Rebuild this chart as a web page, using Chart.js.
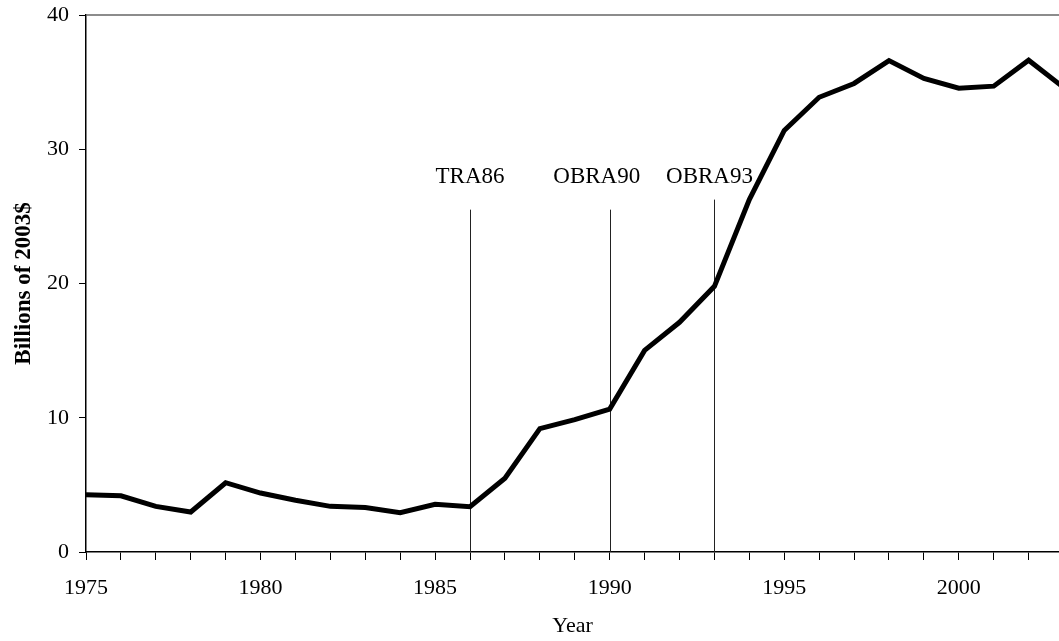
<!DOCTYPE html>
<html>
<head>
<meta charset="utf-8">
<script src="https://cdn.jsdelivr.net/npm/chart.js@4.4.1/dist/chart.umd.min.js"></script>
<style>
  html, body { margin: 0; padding: 0; background: #fff; }
  canvas { display: block; }
</style>
</head>
<body>
<canvas id="chart" width="1059" height="641"></canvas>
<script>
// values
const years = [1975, 1976, 1977, 1978, 1979, 1980, 1981, 1982, 1983, 1984,
               1985, 1986, 1987, 1988, 1989, 1990, 1991, 1992, 1993, 1994,
               1995, 1996, 1997, 1998, 1999, 2000, 2001, 2002, 2003];
const billions = [4.27, 4.19, 3.40, 2.98, 5.16, 4.39, 3.85, 3.40, 3.32, 2.93,
                  3.55, 3.38, 5.49, 9.19, 9.86, 10.65, 15.02, 17.11, 19.79, 26.25,
                  31.4, 33.87, 34.9, 36.6, 35.27, 34.55, 34.7, 36.63, 34.6];
const yTicks = [0, 10, 20, 30, 40];
const xTickLabels = [1975, 1980, 1985, 1990, 1995, 2000];

// law changes marked on the chart
const eventYears = [1986, 1990, 1993];
const eventNames = ['TRA86', 'OBRA90', 'OBRA93'];
const eventLineTops = [25.5, 25.5, 26.25];
const eventLabelYears = [1986, 1989.63, 1992.86];
const eventLabelLevel = 27.95;

const serif = 'Liberation Serif';

// vertical lines + names, top frame line
const eventLines = {
  id: 'eventLines',
  beforeDatasetsDraw(chart) {
    const ctx = chart.ctx;
    const x = chart.scales.x, y = chart.scales.y;
    const area = chart.chartArea;
    ctx.save();
    ctx.strokeStyle = '#666';
    ctx.lineWidth = 1.5;
    ctx.beginPath();
    ctx.moveTo(area.left, area.top);
    ctx.lineTo(area.right, area.top);
    ctx.stroke();

    ctx.strokeStyle = '#222';
    ctx.lineWidth = 1;
    eventYears.forEach((yr, i) => {
      const px = Math.round(x.getPixelForValue(yr)) + 0.5;
      ctx.beginPath();
      ctx.moveTo(px, y.getPixelForValue(eventLineTops[i]));
      ctx.lineTo(px, y.getPixelForValue(0));
      ctx.stroke();
    });
    ctx.fillStyle = '#000';
    ctx.font = '23px "' + serif + '"';
    ctx.textAlign = 'center';
    ctx.textBaseline = 'middle';
    eventNames.forEach((name, i) => {
      ctx.fillText(name, x.getPixelForValue(eventLabelYears[i]), y.getPixelForValue(eventLabelLevel));
    });
    ctx.restore();
  }
};

const ctx = document.getElementById('chart').getContext('2d');
new Chart(ctx, {
  type: 'line',
  data: {
    datasets: [{
      data: years.map((yr, i) => ({ x: yr, y: billions[i] })),
      borderColor: '#000',
      borderWidth: 5,
      borderJoinStyle: 'miter',
      pointRadius: 0,
      tension: 0,
      fill: false
    }]
  },
  options: {
    responsive: false,
    animation: false,
    layout: { padding: { top: 15, right: 0, left: 0, bottom: 0 } },
    plugins: {
      legend: { display: false },
      tooltip: { enabled: false }
    },
    scales: {
      x: {
        type: 'linear',
        min: 1975,
        max: 2002.87,
        afterBuildTicks: scale => {
          scale.ticks = years.filter(v => v <= scale.max).map(v => ({ value: v }));
        },
        afterFit: scale => { scale.height = 89; },
        ticks: {
          autoSkip: false,
          maxRotation: 0,
          padding: 15,
          color: '#000',
          font: { family: serif, size: 22 },
          callback: v => xTickLabels.includes(v) ? String(v) : ''
        },
        grid: { drawOnChartArea: false, drawTicks: true, tickLength: 8, tickColor: '#000', tickWidth: 1 },
        border: { display: true, color: '#000', width: 1.5 },
        title: {
          display: true,
          text: 'Year',
          color: '#000',
          font: { family: serif, size: 22 },
          padding: { top: 2, bottom: 2 }
        }
      },
      y: {
        min: 0,
        max: 40,
        afterBuildTicks: scale => {
          scale.ticks = yTicks.map(v => ({ value: v }));
        },
        afterFit: scale => {
          scale.width = 86;
          scale.paddingTop = 0;
          scale.paddingBottom = 0;
        },
        ticks: {
          padding: 10,
          color: '#000',
          font: { family: serif, size: 22 }
        },
        grid: { drawOnChartArea: false, drawTicks: true, tickLength: 7, tickColor: '#000', tickWidth: 1 },
        border: { display: true, color: '#000', width: 1.5 },
        title: {
          display: true,
          text: 'Billions of 2003$',
          color: '#000',
          font: { family: serif, size: 23, weight: 'bold' },
          padding: { top: 10, bottom: 4 }
        }
      }
    }
  },
  plugins: [eventLines]
});
</script>
</body>
</html>
